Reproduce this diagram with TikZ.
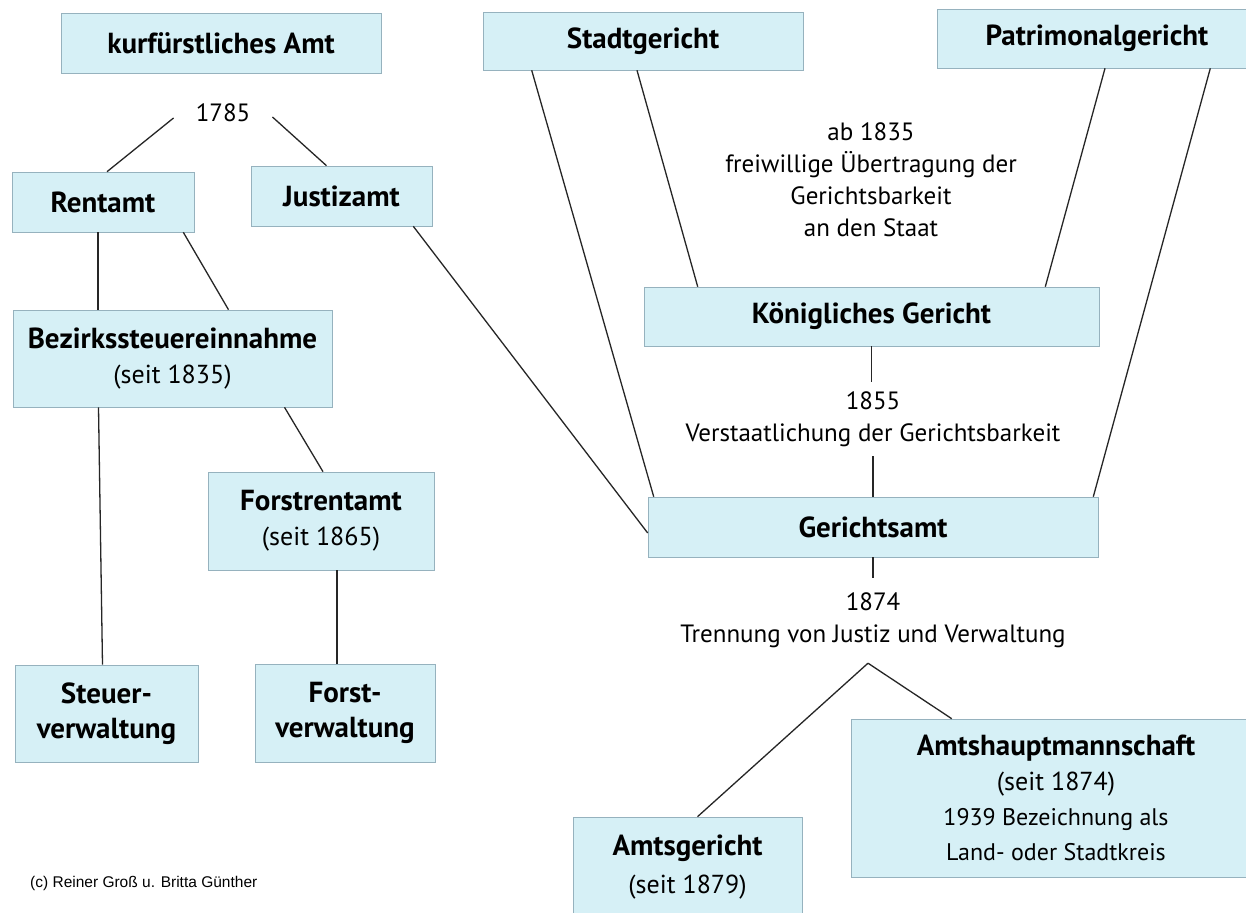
\documentclass[tikz,border=0pt]{standalone}
\usepackage{fontspec}
\setmainfont{PT Sans}
\newfontfamily\copyfont{Liberation Sans}
\usetikzlibrary{positioning}
\definecolor{boxfill}{RGB}{214,240,246}
\definecolor{boxline}{RGB}{150,178,190}
\newcommand{\seit}[1]{{\mdseries\fontsize{26}{35}\selectfont(seit #1)}}
\newcommand{\boxnote}{\mdseries\fontsize{24}{31}\selectfont}

\begin{document}
\begin{tikzpicture}[
    x=1pt, y=-1pt,
    box/.style={rectangle, draw=boxline, fill=boxfill, line width=0.6pt, inner sep=0pt, align=center, font=\bfseries\fontsize{29}{35}\selectfont},
    note/.style={align=center, inner sep=0pt, font=\fontsize{25}{32}\selectfont},
    link/.style={line width=1.3pt, black!85}
]
    \clip (0,0) rectangle (1246,912);
    \fill[white] (0,0) rectangle (1246,912);

    % Kurfuerstliches Amt and its offices
    \node[box, minimum width=320pt, minimum height=60pt] (amt) at (221,43) {kurfürstliches Amt};
    \node[note, inner xsep=22pt, minimum height=20pt] (y1785) at (223,113) {1785};
    \node[box, minimum width=182pt, minimum height=60pt] (rent) at (103,202) {Rentamt};
    \node[box, minimum width=181pt, minimum height=60pt] (justiz) at (341.5,196) {Justizamt};
    \node[box, minimum width=319pt, minimum height=97pt] (bezirk) at (172.5,358.5) {Bezirkssteuereinnahme\\\seit{1835}};
    \node[box, minimum width=226pt, minimum height=98pt] (forstrent) at (321,521) {Forstrentamt\\\seit{1865}};
    \node[box, minimum width=183pt, minimum height=97pt] (steuer) at (106.5,713.5) {Steuer-\\verwaltung};
    \node[box, minimum width=180pt, minimum height=98pt] (forstv) at (345,713) {Forst-\\verwaltung};

    % Courts
    \node[box, minimum width=320pt, minimum height=58pt] (stadt) at (643,41) {Stadtgericht};
    \node[box, minimum width=320pt, minimum height=59pt] (patri) at (1097,38.5) {Patrimonalgericht};
    \node[note] (ab1835) at (871,180) {ab 1835\\freiwillige Übertragung der\\Gerichtsbarkeit\\an den Staat};
    \node[box, minimum width=455pt, minimum height=59pt] (koenig) at (871.5,316.5) {Königliches Gericht};
    \node[note, minimum height=74pt] (y1855) at (873,419) {1855\\Verstaatlichung der Gerichtsbarkeit};
    \node[box, minimum width=450pt, minimum height=60pt] (gericht) at (873,527) {Gerichtsamt};
    \node[note, minimum height=85pt] (y1874) at (873,620.5) {1874\\Trennung von Justiz und Verwaltung};
    \node[box, minimum width=229pt, minimum height=100pt] (amtsg) at (687.5,867) {Amtsgericht\\[3pt]\seit{1879}};
    \node[box, minimum width=410pt, minimum height=158pt] (amtsh) at (1056,798)
        {Amtshauptmannschaft\\\seit{1874}\\\boxnote 1939 Bezeichnung als\\\boxnote Land- oder Stadtkreis};

    \node[anchor=west, inner sep=0pt, font=\copyfont\fontsize{15.5}{18}\selectfont] (copy) at (30,883) {(c) Reiner Groß u. Britta Günther};

    % Connections
    \draw[link] ([yshift=-5pt]y1785.west) -- ([xshift=4pt]rent.north);
    \draw[link] ([yshift=-4pt]y1785.east) -- ([xshift=-15pt]justiz.north);
    \draw[link] ([xshift=-5pt]rent.south) -- ([xshift=-5pt]rent.south |- bezirk.north);
    \draw[link] ([xshift=-11pt]rent.south east) -- ([xshift=56pt]bezirk.north);
    \draw[link] ([xshift=-74pt]bezirk.south) -- ([xshift=-4pt]steuer.north);
    \draw[link] ([xshift=112pt]bezirk.south) -- ([xshift=2pt]forstrent.north);
    \draw[link] ([xshift=16pt]forstrent.south) -- ([xshift=16pt]forstrent.south |- forstv.north);
    \draw[link] ([xshift=-19pt]justiz.south east) -- ([yshift=-6pt]gericht.west);
    \draw[link] ([xshift=49pt]stadt.south west) -- ([xshift=6pt]gericht.north west);
    \draw[link] ([xshift=-6pt]stadt.south) -- ([xshift=54pt]koenig.north west);
    \draw[link] ([xshift=8pt]patri.south) -- ([xshift=-54pt]koenig.north east);
    \draw[link] ([xshift=-47pt]patri.south east) -- ([xshift=-5pt]gericht.north east);
    \draw[link] (koenig.south) -- (koenig.south |- y1855.north);
    \draw[link] (y1855.south) -- (y1855.south |- gericht.north);
    \draw[link] (gericht.south) -- (gericht.south |- y1874.north);
    \draw[link] ([xshift=-5pt]y1874.south) -- ([xshift=10pt]amtsg.north);
    \draw[link] ([xshift=-5pt]y1874.south) -- ([xshift=101pt]amtsh.north west);
\end{tikzpicture}
\end{document}
